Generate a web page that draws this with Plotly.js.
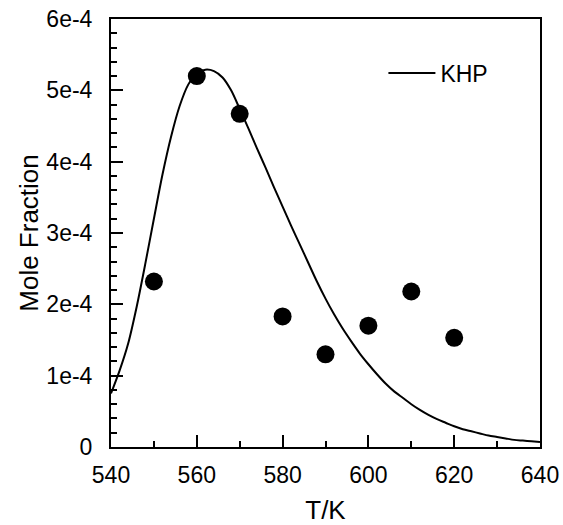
<!DOCTYPE html>
<html>
<head>
<meta charset="utf-8">
<script src="https://cdn.plot.ly/plotly-3.0.1.min.js"></script>
<style>html,body{margin:0;padding:0;background:#fff;}#chart{width:563px;height:525px;}</style>
</head>
<body>
<div id="chart"></div>
<script>
// Measured points (T/K, mole fraction)
const pointT = [550, 560, 570, 580, 590, 600, 610, 620];
const pointX = [2.32e-4, 5.20e-4, 4.67e-4, 1.83e-4, 1.30e-4, 1.70e-4, 2.18e-4, 1.53e-4];

// KHP model curve
const curveT = [540, 542, 544, 546, 548, 550, 552, 554, 556, 558, 560, 562, 564, 566, 568, 570,
  572, 574, 576, 578, 580, 582, 584, 586, 588, 590, 592, 594, 596, 598, 600, 602, 604, 606, 608,
  610, 612, 614, 616, 618, 620, 622, 624, 626, 628, 630, 632, 634, 636, 638, 640];
const curveX = [0.75e-4, 1.07e-4, 1.45e-4, 1.97e-4, 2.57e-4, 3.20e-4, 3.82e-4, 4.35e-4, 4.78e-4,
  5.08e-4, 5.24e-4, 5.29e-4, 5.27e-4, 5.18e-4, 5.00e-4, 4.74e-4, 4.47e-4, 4.19e-4, 3.92e-4,
  3.64e-4, 3.37e-4, 3.10e-4, 2.84e-4, 2.58e-4, 2.32e-4, 2.08e-4, 1.86e-4, 1.66e-4, 1.48e-4,
  1.31e-4, 1.16e-4, 1.02e-4, 0.89e-4, 0.78e-4, 0.69e-4, 0.60e-4, 0.52e-4, 0.45e-4, 0.39e-4,
  0.34e-4, 0.29e-4, 0.25e-4, 0.22e-4, 0.19e-4, 0.16e-4, 0.14e-4, 0.12e-4, 0.10e-4, 0.09e-4,
  0.08e-4, 0.07e-4];

const yTickVals = [0, 1e-4, 2e-4, 3e-4, 4e-4, 5e-4, 6e-4];
const yTickText = ['0', '1e-4', '2e-4', '3e-4', '4e-4', '5e-4', '6e-4'];
const xTickVals = [540, 560, 580, 600, 620, 640];
const xTickText = ['540', '560', '580', '600', '620', '640'];

const FONT = 'Liberation Sans, Arial, sans-serif';

const traces = [
  {
    x: curveT, y: curveX, type: 'scatter', mode: 'lines', name: 'KHP',
    line: {color: '#000', width: 2, shape: 'spline', smoothing: 0.8},
    showlegend: true
  },
  {
    x: pointT, y: pointX, type: 'scatter', mode: 'markers', name: 'data',
    marker: {color: '#000', size: 18, line: {width: 0}},
    showlegend: false
  }
];

const axisCommon = {
  showgrid: false, zeroline: false,
  showline: true, linecolor: '#000', linewidth: 2, mirror: true,
  ticks: 'inside', ticklen: 12, tickwidth: 2, tickcolor: '#000',
  tickfont: {family: FONT, size: 23, color: '#000'},
  tickmode: 'array'
};

const layout = {
  width: 563, height: 525,
  margin: {l: 111, r: 23, t: 19, b: 78, pad: 0},
  paper_bgcolor: '#fff', plot_bgcolor: '#fff',
  font: {family: FONT, color: '#000'},
  xaxis: Object.assign({}, axisCommon, {
    range: [540, 640], tickvals: xTickVals, ticktext: xTickText,
    ticklabelstandoff: 6,
    minor: {dtick: 10, ticks: 'inside', ticklen: 6, tickwidth: 2, tickcolor: '#000', showgrid: false},
    title: {text: 'T/K', font: {family: FONT, size: 26, color: '#000'}, standoff: 14}
  }),
  yaxis: Object.assign({}, axisCommon, {
    range: [0, 6e-4], tickvals: yTickVals, ticktext: yTickText,
    ticklabelstandoff: 12,
    minor: {dtick: 2e-5, tick0: 0, ticks: 'inside', ticklen: 6, tickwidth: 2, tickcolor: '#000', showgrid: false},
    title: {text: 'Mole Fraction', font: {family: FONT, size: 26, color: '#000'}, standoff: 0}
  }),
  showlegend: true,
  legend: {
    x: 0.635, y: 0.874, xanchor: 'left', yanchor: 'middle',
    bgcolor: 'rgba(0,0,0,0)', borderwidth: 0, itemwidth: 47,
    font: {family: FONT, size: 23, color: '#000'}
  }
};

Plotly.newPlot('chart', traces, layout, {displayModeBar: false, staticPlot: true});
</script>
</body>
</html>
